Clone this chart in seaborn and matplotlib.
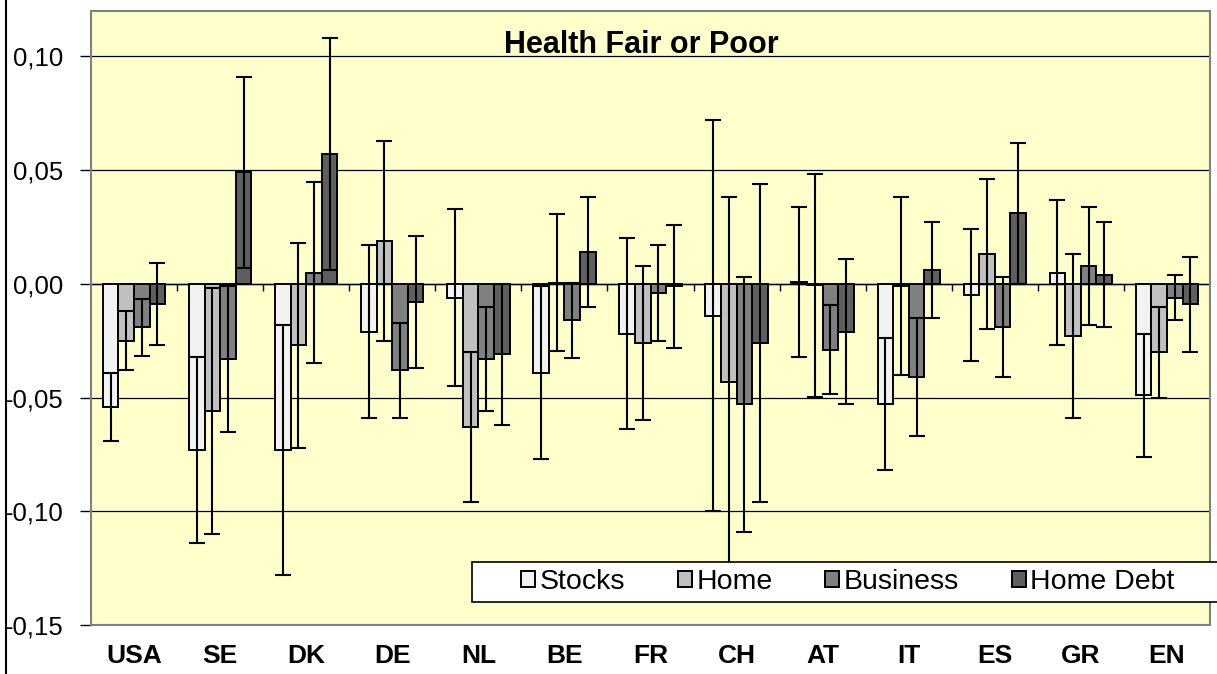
import pandas as pd
import numpy as np
import matplotlib
matplotlib.use("Agg")
import matplotlib.pyplot as plt
import seaborn as sns
from matplotlib.lines import Line2D
from matplotlib.patches import Rectangle
from matplotlib.ticker import MultipleLocator, FuncFormatter

# values (bar height and half-width of the error bar)
countries = ["USA", "SE", "DK", "DE", "NL", "BE", "FR", "CH", "AT", "IT", "ES", "GR", "EN"]
series = ["Stocks", "Home", "Business", "Home Debt"]

stocks = [-0.054, -0.073, -0.073, -0.021, -0.006, -0.039, -0.022, -0.014, 0.001, -0.053, -0.005, 0.005, -0.049]
stocks_err = [0.015, 0.041, 0.055, 0.038, 0.039, 0.038, 0.042, 0.086, 0.033, 0.029, 0.029, 0.032, 0.027]
home = [-0.025, -0.056, -0.027, 0.019, -0.063, 0.0006, -0.026, -0.043, -0.0006, -0.001, 0.013, -0.023, -0.030]
home_err = [0.013, 0.054, 0.045, 0.044, 0.033, 0.030, 0.034, 0.081, 0.049, 0.039, 0.033, 0.036, 0.020]
business = [-0.019, -0.033, 0.005, -0.038, -0.033, -0.016, -0.004, -0.053, -0.029, -0.041, -0.019, 0.008, -0.006]
business_err = [0.0125, 0.032, 0.040, 0.021, 0.023, 0.0165, 0.021, 0.056, 0.0195, 0.026, 0.022, 0.026, 0.010]
home_debt = [-0.009, 0.049, 0.057, -0.008, -0.031, 0.014, -0.001, -0.026, -0.021, 0.006, 0.031, 0.004, -0.009]
home_debt_err = [0.018, 0.042, 0.051, 0.029, 0.031, 0.024, 0.027, 0.070, 0.032, 0.021, 0.031, 0.023, 0.021]

colors = {"Stocks": "#f2f2f2", "Home": "#c0c0c0", "Business": "#808080", "Home Debt": "#5f5f5f"}

# long table for seaborn
vals = [stocks, home, business, home_debt]
errs = [stocks_err, home_err, business_err, home_debt_err]
df = pd.concat([pd.DataFrame({"country": countries, "kind": s, "value": v, "err": e})
                for s, v, e in zip(series, vals, errs)], ignore_index=True)

sns.set_theme(style="white")
plt.rcParams["font.family"] = ["Liberation Sans", "DejaVu Sans"]
plt.rcParams["text.color"] = "black"
plt.rcParams["xtick.color"] = "black"
plt.rcParams["ytick.color"] = "black"

fig = plt.figure(figsize=(12.17, 6.74), dpi=100)
ax = fig.add_axes([91 / 1217, 1 - 625 / 674, 1119 / 1217, 614 / 674])
ax.set_facecolor("#ffffcc")

sns.barplot(data=df, x="country", y="value", hue="kind", hue_order=series, order=countries,
            palette=colors, width=0.725, errorbar=None, edgecolor="black", linewidth=1.4,
            saturation=1, ax=ax, zorder=2)

# error bars at the centre of each bar
for cont, s in zip(ax.containers, series):
    sub = df[df["kind"] == s]
    xs = [b.get_x() + b.get_width() / 2 for b in cont]
    ax.errorbar(xs, sub["value"], yerr=sub["err"], fmt="none", ecolor="black",
                elinewidth=1.5, capsize=6, capthick=1.5, zorder=3)

ax.set_ylim(-0.15, 0.12)
ax.set_xlim(-0.5, len(countries) - 0.5)
ax.yaxis.set_major_locator(MultipleLocator(0.05))
ax.yaxis.set_major_formatter(FuncFormatter(lambda v, p: f"{v:.2f}".replace(".", ",").replace("-0,00", "0,00")))
ax.yaxis.grid(True, color="black", lw=0.9)
ax.set_axisbelow(True)
ax.axhline(0, color="black", lw=1.0, zorder=1.5)
# little ticks on the zero line between countries
ax.vlines(np.arange(len(countries) - 1) + 0.5, -0.003, 0, color="black", lw=1.0, zorder=1.5)

ax.tick_params(axis="y", direction="out", length=8, width=1, color="black", pad=12,
               labelsize=18.5, left=True, labelcolor="black")
ax.tick_params(axis="x", length=0, pad=14, labelsize=19, labelcolor="black")
for t in ax.get_xticklabels():
    t.set_fontweight("bold")
ax.set_xlabel("")
ax.set_ylabel("")
for sp in ax.spines.values():
    sp.set_color("#808080")
    sp.set_linewidth(1.5)

ax.text(0.4915, 0.9316, "Health Fair or Poor", transform=ax.transAxes, ha="center",
        va="baseline", fontsize=22, fontweight="bold", color="black")

# legend: white box running off the right edge
h, l = ax.get_legend_handles_labels()
if ax.get_legend() is not None:
    ax.get_legend().remove()
fig.add_artist(Rectangle((472 / 1217, 1 - 602 / 674), 0.7, 40 / 674, transform=fig.transFigure,
                         facecolor="white", edgecolor="black", lw=1.2, zorder=5))
leg = fig.legend(h, l, loc="center left", bbox_to_anchor=(521 / 1217, 1 - 582 / 674), ncol=4,
                 frameon=False, fontsize=20.5, handlelength=0.5, handleheight=0.5,
                 handletextpad=0.15, columnspacing=1.85, borderpad=0, borderaxespad=0,
                 labelcolor="black")
leg.set_zorder(6)
for hd in leg.legend_handles:
    hd.set_edgecolor("black")
    hd.set_linewidth(1.4)

fig.add_artist(Line2D([6 / 1217, 6 / 1217], [0, 1], transform=fig.transFigure, color="black", lw=1.5))

fig.savefig("out.png", dpi=100)
